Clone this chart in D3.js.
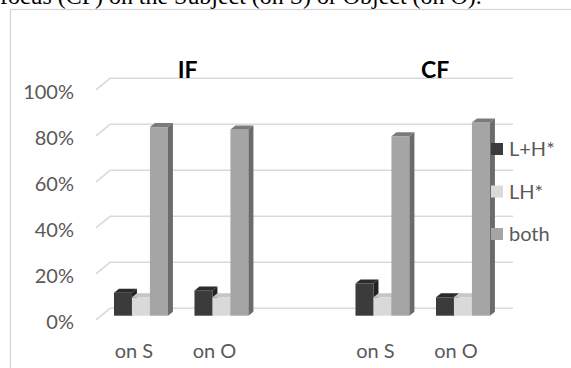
<!DOCTYPE html>
<html>
<head>
<meta charset="utf-8">
<script src="https://cdn.jsdelivr.net/npm/d3@7"></script>
<style>
  html, body { margin: 0; padding: 0; background: #fff; overflow: hidden; }
  svg { display: block; }
</style>
</head>
<body>
<svg id="chart" width="571" height="368"></svg>
<script>
// ---- data ----
const categories = ["on S", "on O", "", "on S", "on O"];
const groupTitles = ["IF", "CF"];
const groupMembers = [[0, 1], [3, 4]];
const seriesNames = ["L+H*", "LH*", "both"];
const plusHValues = [0.10, 0.11, null, 0.14, 0.08];
const lhValues    = [0.08, 0.08, null, 0.08, 0.08];
const bothValues  = [0.82, 0.81, null, 0.78, 0.84];
const yTicks = [0, 0.2, 0.4, 0.6, 0.8, 1.0];
const caption = "focus (CF) on the Subject (on S) or Object (on O).";

const seriesValues = [plusHValues, lhValues, bothValues];

// ---- layout & style ----
const W = 571, H = 368;
const font = "Lato, 'Open Sans', sans-serif";
const labelSize = 20;
const textGray = "#595959";
const gridGray = "#d9d9d9";
const faceFront = ["#3b3b3b", "#d9d9d9", "#a5a5a5"];
const faceTop   = ["#2b2b2b", "#c6c6c6", "#7b7b7b"];
const faceSide  = ["#232323", "#b4b4b4", "#6b6b6b"];
const wallLeft = 110, wallRight = 513;
const floorDx = -14, floorDy = 11.5;   // back wall -> front edge of floor
const barDx = 5, barDy = -4;           // bar depth
const titleNudge = [6.5, 12.5];

const svg = d3.select("#chart");

// caption line from the surrounding document (runs off the top edge)
const cap = svg.append("text")
  .attr("x", 0).attr("y", 4)
  .attr("font-family", "'Liberation Serif', 'Times New Roman', serif")
  .attr("font-size", 20)
  .attr("fill", "#000")
  .text(caption);
const capW = cap.node().getComputedTextLength();
cap.attr("font-size", 20 * 482 / capW);

// chart frame
svg.append("rect")
  .attr("x", 10.5).attr("y", 9.5)
  .attr("width", W + 20).attr("height", H + 20)
  .attr("fill", "none").attr("stroke", "#d4d4d4").attr("stroke-width", 1.2);

// scales
const yWall  = d3.scaleLinear().domain([0, 1]).range([308.3, 78.3]);
const yBar   = d3.scaleLinear().domain([0, 1]).range([315.7, 85.7]);
const yFront = d3.scaleLinear().domain([0, 1]).range([308.3 + floorDy + 2, 78.3 + floorDy + 2]);

const xBand = d3.scaleBand()
  .domain(d3.range(categories.length))
  .range([100.7, 503.2])
  .paddingInner(0.33)
  .paddingOuter(0.165);
const xSub = d3.scaleBand()
  .domain(d3.range(seriesNames.length))
  .range([0, xBand.bandwidth()]);

// back-wall gridlines and the left-wall diagonals
const grid = svg.append("g")
  .attr("stroke", gridGray).attr("stroke-width", 1.6).attr("fill", "none");
grid.selectAll("line.h")
  .data(yTicks).join("line").attr("class", "h")
  .attr("x1", wallLeft).attr("x2", wallRight)
  .attr("y1", d => yWall(d)).attr("y2", d => yWall(d));
grid.selectAll("line.d")
  .data(yTicks).join("line").attr("class", "d")
  .attr("x1", wallLeft + floorDx).attr("y1", d => yWall(d) + floorDy)
  .attr("x2", wallLeft).attr("y2", d => yWall(d));

// group titles sitting on the top gridline
svg.append("g").selectAll("text")
  .data(groupTitles)
  .join("text")
  .attr("x", (d, i) => d3.mean(groupMembers[i], k => xBand(k) + xBand.bandwidth() / 2) + titleNudge[i])
  .attr("y", yWall(1) - 0.5)
  .attr("text-anchor", "middle")
  .attr("font-family", font)
  .attr("font-weight", "bold")
  .attr("font-size", 23)
  .attr("fill", "#000")
  .text(d => d);

// value axis labels
const yAxis = svg.append("g")
  .attr("transform", `translate(${wallLeft + floorDx},0)`)
  .call(d3.axisLeft(yFront).tickValues(yTicks).tickFormat(d3.format(".0%")).tickSize(0).tickPadding(22));
yAxis.select(".domain").remove();
yAxis.selectAll("text")
  .attr("font-family", font).attr("font-size", labelSize).attr("fill", textGray);

// 3D bars
const bars = [];
categories.forEach((c, i) => {
  seriesValues.forEach((vals, j) => {
    if (vals[i] != null) bars.push({ i, j, v: vals[i] });
  });
});
const barG = svg.append("g");
bars.forEach(b => {
  const x0 = xBand(b.i) + xSub(b.j);
  const w = xSub.bandwidth();
  const yt = yBar(b.v), y0 = yBar(0);
  const g = barG.append("g");
  g.append("rect")
    .attr("x", x0).attr("y", yt).attr("width", w).attr("height", y0 - yt)
    .attr("fill", faceFront[b.j]);
  g.append("polygon")
    .attr("points", [[x0, yt], [x0 + barDx, yt + barDy], [x0 + w + barDx, yt + barDy], [x0 + w, yt]].join(" "))
    .attr("fill", faceTop[b.j]);
  g.append("polygon")
    .attr("points", [[x0 + w, yt], [x0 + w + barDx, yt + barDy], [x0 + w + barDx, y0 + barDy], [x0 + w, y0]].join(" "))
    .attr("fill", faceSide[b.j]);
});

// category axis labels (front edge of the floor)
const xLabel = xBand.copy().range(xBand.range().map(r => r - 7));
const xAxis = svg.append("g")
  .attr("transform", "translate(0,344)")
  .call(d3.axisBottom(xLabel).tickFormat(i => categories[i]).tickSize(0).tickPadding(0));
xAxis.select(".domain").remove();
xAxis.selectAll("text")
  .attr("font-family", font).attr("font-size", labelSize).attr("fill", textGray);

// legend
const legend = svg.append("g").attr("transform", "translate(491,149)");
const li = legend.selectAll("g").data(seriesNames).join("g")
  .attr("transform", (d, i) => `translate(0,${i * 42.5})`);
li.append("rect")
  .attr("x", 0).attr("y", -6).attr("width", 12).attr("height", 12)
  .attr("fill", (d, i) => faceFront[i]);
li.append("text")
  .attr("x", 18).attr("y", 0).attr("dy", "0.35em")
  .attr("font-family", font).attr("font-size", labelSize).attr("fill", textGray)
  .text(d => d);
</script>
</body>
</html>
